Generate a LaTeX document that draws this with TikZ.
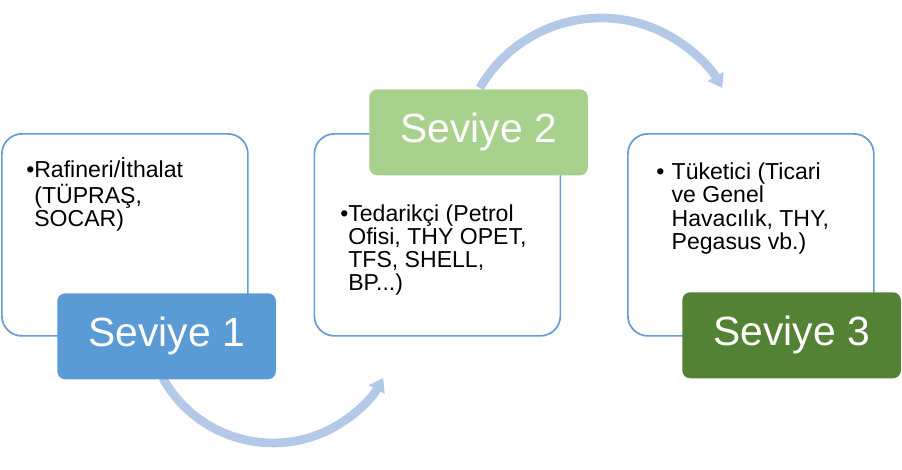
\documentclass[tikz,border=0pt]{standalone}
\usepackage{fontspec}
\setmainfont{Liberation Sans}
\usetikzlibrary{arrows.meta}
\definecolor{boxline}{RGB}{106,156,210}
\definecolor{lvlone}{RGB}{91,155,213}
\definecolor{lvltwo}{RGB}{169,209,142}
\definecolor{lvlthree}{RGB}{84,130,53}
\definecolor{flowc}{RGB}{180,200,231}
\begin{document}
\begin{tikzpicture}[x=0.75pt,y=-0.75pt,
 panel/.style={draw=boxline, line width=1.3pt, fill=white, rounded corners=15pt, minimum width=184.5pt, minimum height=151.5pt, anchor=north west, inner sep=0pt},
 level/.style={rounded corners=6pt, minimum width=164pt, minimum height=64.5pt, anchor=north west, text=white, font=\fontsize{30.6}{36}\selectfont, inner sep=0pt},
 itemtext/.style={anchor=base west, inner sep=0pt, font=\fontsize{17.3}{17}\selectfont, text=black},
 flow/.style={draw=flowc, line width=6.5pt, -{Triangle[width=13pt,length=10pt]}}]
\useasboundingbox (0,0) rectangle (902,469);
% flow arrows
\coordinate (f1s) at (162.8,378);
\draw[flow] (f1s) arc[start angle=151,end angle=29,radius=126];
\coordinate (f2s) at (479.8,88);
\draw[flow] (f2s) arc[start angle=210,end angle=330,radius=140];
% panels
\node[panel] (p1) at (1,133) {};
\node[panel] (p2) at (313.5,133) {};
\node[panel] (p3) at (627,133) {};
% level labels
\node[level, fill=lvlone] (l1) at (57,293) {Seviye 1};
\node[level, fill=lvltwo] (l2) at (369,89) {Seviye 2};
\node[level, fill=lvlthree] (l3) at (682,292) {Seviye 3};
% texts
\node[itemtext] (t1) at (26,177) {\begin{tabular}[t]{@{}l@{}l@{}}•&Rafineri/İthalat\\&(TÜPRAŞ,\\&SOCAR)\end{tabular}};
\node[itemtext] (t2) at (340,221) {\begin{tabular}[t]{@{}l@{}l@{}}•&Tedarikçi (Petrol\\&Ofisi, THY OPET,\\&TFS, SHELL,\\&BP...)\end{tabular}};
\node[itemtext] (t3) at (656,179) {\begin{tabular}[t]{@{}l@{\hspace{5.5pt}}l@{}}•&Tüketici (Ticari\\&ve Genel\\&Havacılık, THY,\\&Pegasus vb.)\end{tabular}};
\end{tikzpicture}
\end{document}
